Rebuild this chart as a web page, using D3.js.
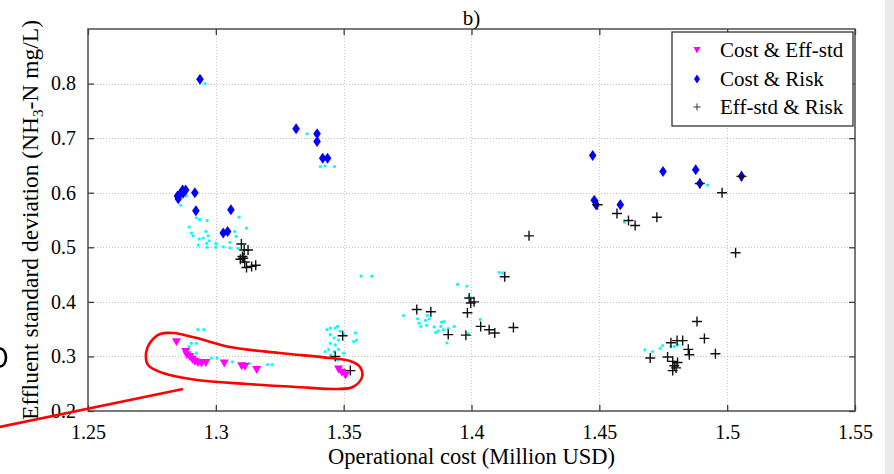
<!DOCTYPE html>
<html>
<head>
<meta charset="utf-8">
<script src="https://cdn.jsdelivr.net/npm/d3@7/dist/d3.min.js"></script>
<style>
  html, body { margin: 0; padding: 0; background: #fff; }
  svg { display: block; }
  text { font-family: "Liberation Serif", "Times New Roman", serif; fill: #000; }
</style>
</head>
<body>
<svg id="chart" width="894" height="474"></svg>
<script>
// Pareto solutions: operational cost (Million USD) vs effluent std (NH3-N mg/L)
const xTicks = [1.25, 1.3, 1.35, 1.4, 1.45, 1.5, 1.55];
const yTicks = [0.2, 0.3, 0.4, 0.5, 0.6, 0.7, 0.8];
const xTickLabels = ["1.25", "1.3", "1.35", "1.4", "1.45", "1.5", "1.55"];
const yTickLabels = ["0.2", "0.3", "0.4", "0.5", "0.6", "0.7", "0.8"];

const seriesNames = ["Cost & Eff-std", "Cost & Risk", "Eff-std & Risk"];

// all non-dominated population members (small cyan dots)
const popCost = [1.2958, 1.2885, 1.2863, 1.2924, 1.2937, 1.2966, 1.2896, 1.2905, 1.2911, 1.2935, 1.2951, 1.2961, 1.2970, 1.2974, 1.2964, 1.2931, 1.2966, 1.3000, 1.3000, 1.3029, 1.3055, 1.3074, 1.3080, 1.3091, 1.3120, 1.3055, 1.3087, 1.3113,
  1.3357, 1.3409, 1.3427, 1.3464,
  1.2930, 1.2953, 1.2898, 1.2904, 1.2895, 1.2924, 1.2983, 1.3005, 1.3065, 1.3131, 1.3202, 1.3220, 1.2924,
  1.3435, 1.3448, 1.3467, 1.3476, 1.3487, 1.3448, 1.3500, 1.3463, 1.3480, 1.3448, 1.3467, 1.3441, 1.3428, 1.3463, 1.3480, 1.3500, 1.3448, 1.3546, 1.3539, 1.3550, 1.3476,
  1.3568, 1.3610, 1.3734, 1.3789, 1.3795, 1.3802, 1.3820, 1.3824, 1.3835, 1.3828, 1.3854, 1.3860, 1.3880, 1.3883, 1.3893, 1.3890, 1.3909, 1.3870, 1.3932, 1.3904, 1.3945, 1.3982, 1.3991, 1.3987, 1.4034, 1.4108, 1.4121,
  1.4923, 1.4598,
  1.4678, 1.4708, 1.4738, 1.4747, 1.4780, 1.4793, 1.4806];
const popStd = [0.800, 0.594, 0.577, 0.554, 0.551, 0.549, 0.537, 0.526, 0.521, 0.515, 0.517, 0.529, 0.521, 0.512, 0.507, 0.504, 0.500, 0.507, 0.500, 0.501, 0.509, 0.529, 0.520, 0.555, 0.535, 0.499, 0.498, 0.483,
  0.708, 0.648, 0.649, 0.648,
  0.349, 0.349, 0.337, 0.324, 0.318, 0.306, 0.297, 0.297, 0.290, 0.287, 0.285, 0.285, 0.324,
  0.349, 0.352, 0.352, 0.355, 0.346, 0.340, 0.340, 0.334, 0.330, 0.324, 0.321, 0.313, 0.309, 0.309, 0.313, 0.306, 0.303, 0.343, 0.327, 0.330, 0.294,
  0.447, 0.447, 0.375, 0.369, 0.361, 0.355, 0.366, 0.357, 0.369, 0.375, 0.354, 0.344, 0.355, 0.363, 0.364, 0.349, 0.351, 0.347, 0.355, 0.325, 0.432, 0.429, 0.410, 0.342, 0.368, 0.454, 0.453,
  0.614, 0.546,
  0.312, 0.309, 0.315, 0.320, 0.318, 0.318, 0.321];

// Cost & Eff-std front
const ceCost = [1.2846, 1.2882, 1.2887, 1.2898, 1.2908, 1.2918, 1.2930, 1.2944, 1.2961, 1.3033, 1.3101, 1.3114, 1.3160, 1.3480, 1.3493, 1.3507];
const ceStd  = [0.327, 0.309, 0.303, 0.300, 0.295, 0.291, 0.289, 0.288, 0.289, 0.288, 0.283, 0.282, 0.276, 0.277, 0.271, 0.266];

// Cost & Risk front
const crCost = [1.2938, 1.2853, 1.2859, 1.2870, 1.2882, 1.2872, 1.2850, 1.2918, 1.2922, 1.3059, 1.3029, 1.3046,
  1.3314, 1.3396, 1.3396, 1.3418, 1.3437,
  1.4474, 1.4480, 1.4487, 1.4582, 1.4749, 1.4877, 1.4893, 1.5056];
const crStd  = [0.808, 0.589, 0.597, 0.605, 0.605, 0.599, 0.594, 0.600, 0.567, 0.569, 0.526, 0.529,
  0.717, 0.708, 0.694, 0.663, 0.663,
  0.668, 0.586, 0.578, 0.578, 0.639, 0.642, 0.617, 0.630];

// Eff-std & Risk front
const erCost = [1.3100, 1.3111, 1.3126, 1.3096, 1.3107, 1.3113, 1.3120, 1.3140, 1.3156, 1.3104,
  1.3496, 1.3467, 1.3526,
  1.3786, 1.3841, 1.3909, 1.3978, 1.3984, 1.3991, 1.3997, 1.4010, 1.4036, 1.4069, 1.4091, 1.4164, 1.4130, 1.4225,
  1.4493, 1.4569, 1.4614, 1.4640, 1.4725, 1.4893, 1.4980, 1.5056, 1.5033,
  1.4882, 1.4911, 1.4954, 1.4699, 1.4780, 1.4804, 1.4826, 1.4767, 1.4848, 1.4852, 1.4787, 1.4793, 1.4800, 1.4787, 1.4806];
const erStd  = [0.506, 0.495, 0.495, 0.478, 0.480, 0.473, 0.463, 0.465, 0.467, 0.483,
  0.338, 0.300, 0.274,
  0.386, 0.382, 0.340, 0.339, 0.380, 0.407, 0.398, 0.400, 0.355, 0.349, 0.343, 0.353, 0.446, 0.521,
  0.578, 0.562, 0.549, 0.540, 0.555, 0.617, 0.600, 0.630, 0.490,
  0.364, 0.333, 0.305, 0.297, 0.325, 0.329, 0.329, 0.299, 0.313, 0.303, 0.291, 0.283, 0.279, 0.274, 0.289];

// highlight loop around the Cost & Eff-std front, and its pointer line
const loopCost = [1.2742, 1.2782, 1.2832, 1.2926, 1.3055, 1.3251, 1.3447, 1.3525, 1.3564, 1.3572, 1.3536, 1.3474, 1.3317, 1.3122, 1.2926, 1.2793, 1.2735, 1.2727];
const loopStd  = [0.3245, 0.3410, 0.3429, 0.3337, 0.3172, 0.3062, 0.2971, 0.2916, 0.2806, 0.2623, 0.2440, 0.2403, 0.2440, 0.2495, 0.2568, 0.2696, 0.2842, 0.3062];
const pointerCost = [1.2140, 1.2872];
const pointerStd  = [0.1695, 0.2403];

const svg = d3.select("#chart");
const W = 894, H = 474;
const mLeft = 88, mRight = 855, mTop = 29, mBottom = 411;

const x = d3.scaleLinear().domain([1.25, 1.55]).range([mLeft, mRight]);
const y = d3.scaleLinear().domain([0.2, 0.9]).range([mBottom, mTop]);

// grey strip on the right edge
svg.append("rect").attr("x", 885).attr("y", 0).attr("width", W - 885).attr("height", H).attr("fill", "#e9e9e9");

// edge of a neighbouring glyph on the far left
svg.append("path").attr("d", "M0,348.5 A6,9 0 0 1 0,366.5")
  .attr("fill", "none").attr("stroke", "#000").attr("stroke-width", 2.6);

// dotted grid
const grid = svg.append("g").attr("stroke", "#c4c4c4").attr("stroke-width", 1).attr("stroke-dasharray", "1,2");
grid.selectAll("line.vx").data(xTicks.slice(1, -1)).join("line")
  .attr("x1", d => Math.round(x(d)) + 0.5).attr("x2", d => Math.round(x(d)) + 0.5)
  .attr("y1", mTop).attr("y2", mBottom);
grid.selectAll("line.hy").data(yTicks.slice(1)).join("line")
  .attr("y1", d => Math.round(y(d)) + 0.5).attr("y2", d => Math.round(y(d)) + 0.5)
  .attr("x1", mLeft).attr("x2", mRight);

// axes with inward ticks on all four sides
const axisColor = "#404040";
const fmtX = (d, i) => xTickLabels[i];
const fmtY = (d, i) => yTickLabels[i];

const gx = svg.append("g").attr("transform", `translate(0,${mBottom})`)
  .call(d3.axisBottom(x).tickValues(xTicks).tickFormat(fmtX).tickSizeInner(-6).tickSizeOuter(0).tickPadding(14));
const gxTop = svg.append("g").attr("transform", `translate(0,${mTop})`)
  .call(d3.axisTop(x).tickValues(xTicks).tickFormat("").tickSizeInner(-6).tickSizeOuter(0));
const gy = svg.append("g").attr("transform", `translate(${mLeft},0)`)
  .call(d3.axisLeft(y).tickValues(yTicks).tickFormat(fmtY).tickSizeInner(-6).tickSizeOuter(0).tickPadding(12));
const gyRight = svg.append("g").attr("transform", `translate(${mRight},0)`)
  .call(d3.axisRight(y).tickValues(yTicks).tickFormat("").tickSizeInner(-6).tickSizeOuter(0));

[gx, gxTop, gy, gyRight].forEach(g => {
  g.select(".domain").remove();
  g.selectAll(".tick line").attr("stroke", axisColor).attr("stroke-width", 1.3);
  g.selectAll(".tick text").attr("font-family", "Liberation Serif").attr("font-size", 20).attr("fill", "#000");
});

svg.append("rect").attr("x", mLeft).attr("y", mTop).attr("width", mRight - mLeft).attr("height", mBottom - mTop)
  .attr("fill", "none").attr("stroke", axisColor).attr("stroke-width", 1.4);

// marker shapes
const triPath = "M-4.5,-3.5L4.5,-3.5L0,4.5Z";
const diaPath = "M0,-5.5L3.8,0L0,5.5L-3.8,0Z";
const plusPath = "M-5,0H5M0,-5V5";

const plot = svg.append("g");

plot.append("g").selectAll("circle").data(d3.zip(popCost, popStd)).join("circle")
  .attr("cx", d => x(d[0])).attr("cy", d => y(d[1])).attr("r", 1.6).attr("fill", "#00ffff");

plot.append("g").selectAll("path").data(d3.zip(ceCost, ceStd)).join("path")
  .attr("d", triPath).attr("transform", d => `translate(${x(d[0])},${y(d[1])})`).attr("fill", "#ff00ff");

plot.append("g").selectAll("path").data(d3.zip(crCost, crStd)).join("path")
  .attr("d", diaPath).attr("transform", d => `translate(${x(d[0])},${y(d[1])})`).attr("fill", "#0000ff");

plot.append("g").selectAll("path").data(d3.zip(erCost, erStd)).join("path")
  .attr("d", plusPath).attr("transform", d => `translate(${x(d[0])},${y(d[1])})`)
  .attr("fill", "none").attr("stroke", "#111").attr("stroke-width", 1.4);

// legend
const lg = svg.append("g");
lg.append("rect").attr("x", 672).attr("y", 32).attr("width", 181).attr("height", 94)
  .attr("fill", "#fff").attr("stroke", "#333").attr("stroke-width", 1.3);
const rows = [50, 79, 107];
lg.append("path").attr("d", "M-3.5,-3L3.5,-3L0,3.5Z").attr("transform", `translate(697,${rows[0]})`).attr("fill", "#ff00ff");
lg.append("path").attr("d", "M0,-4.5L3,0L0,4.5L-3,0Z").attr("transform", `translate(697,${rows[1]})`).attr("fill", "#0000ff");
lg.append("path").attr("d", "M-3.5,0H3.5M0,-3.5V3.5").attr("transform", `translate(697,${rows[2]})`)
  .attr("stroke", "#333").attr("stroke-width", 1);
lg.selectAll("text").data(seriesNames).join("text")
  .attr("x", 720).attr("y", (d, i) => rows[i] + 7).attr("font-size", 21).text(d => d);

// title and axis titles
svg.append("text").attr("x", (mLeft + mRight) / 2).attr("y", 25).attr("text-anchor", "middle").attr("font-size", 21).text("b)");
svg.append("text").attr("x", (mLeft + mRight) / 2).attr("y", 464).attr("text-anchor", "middle").attr("font-size", 22.5)
  .text("Operational cost (Million USD)");
const yl = svg.append("text").attr("transform", `translate(38,${(mTop + mBottom) / 2}) rotate(-90)`)
  .attr("text-anchor", "middle").attr("font-size", 23.5);
yl.append("tspan").text("Effluent standard deviation (NH");
yl.append("tspan").attr("dy", 5).attr("font-size", 15).text("3");
yl.append("tspan").attr("dy", -5).text("-N mg/L)");

// red highlight annotation
const line = d3.line().x(d => x(d[0])).y(d => y(d[1]));
svg.append("path").datum(d3.zip(loopCost, loopStd))
  .attr("d", line.curve(d3.curveCatmullRomClosed.alpha(0.5)))
  .attr("fill", "none").attr("stroke", "#f00").attr("stroke-width", 2.6);
svg.append("path").datum(d3.zip(pointerCost, pointerStd))
  .attr("d", d3.line().x(d => x(d[0])).y(d => y(d[1])))
  .attr("fill", "none").attr("stroke", "#f00").attr("stroke-width", 2.6);
</script>
</body>
</html>
